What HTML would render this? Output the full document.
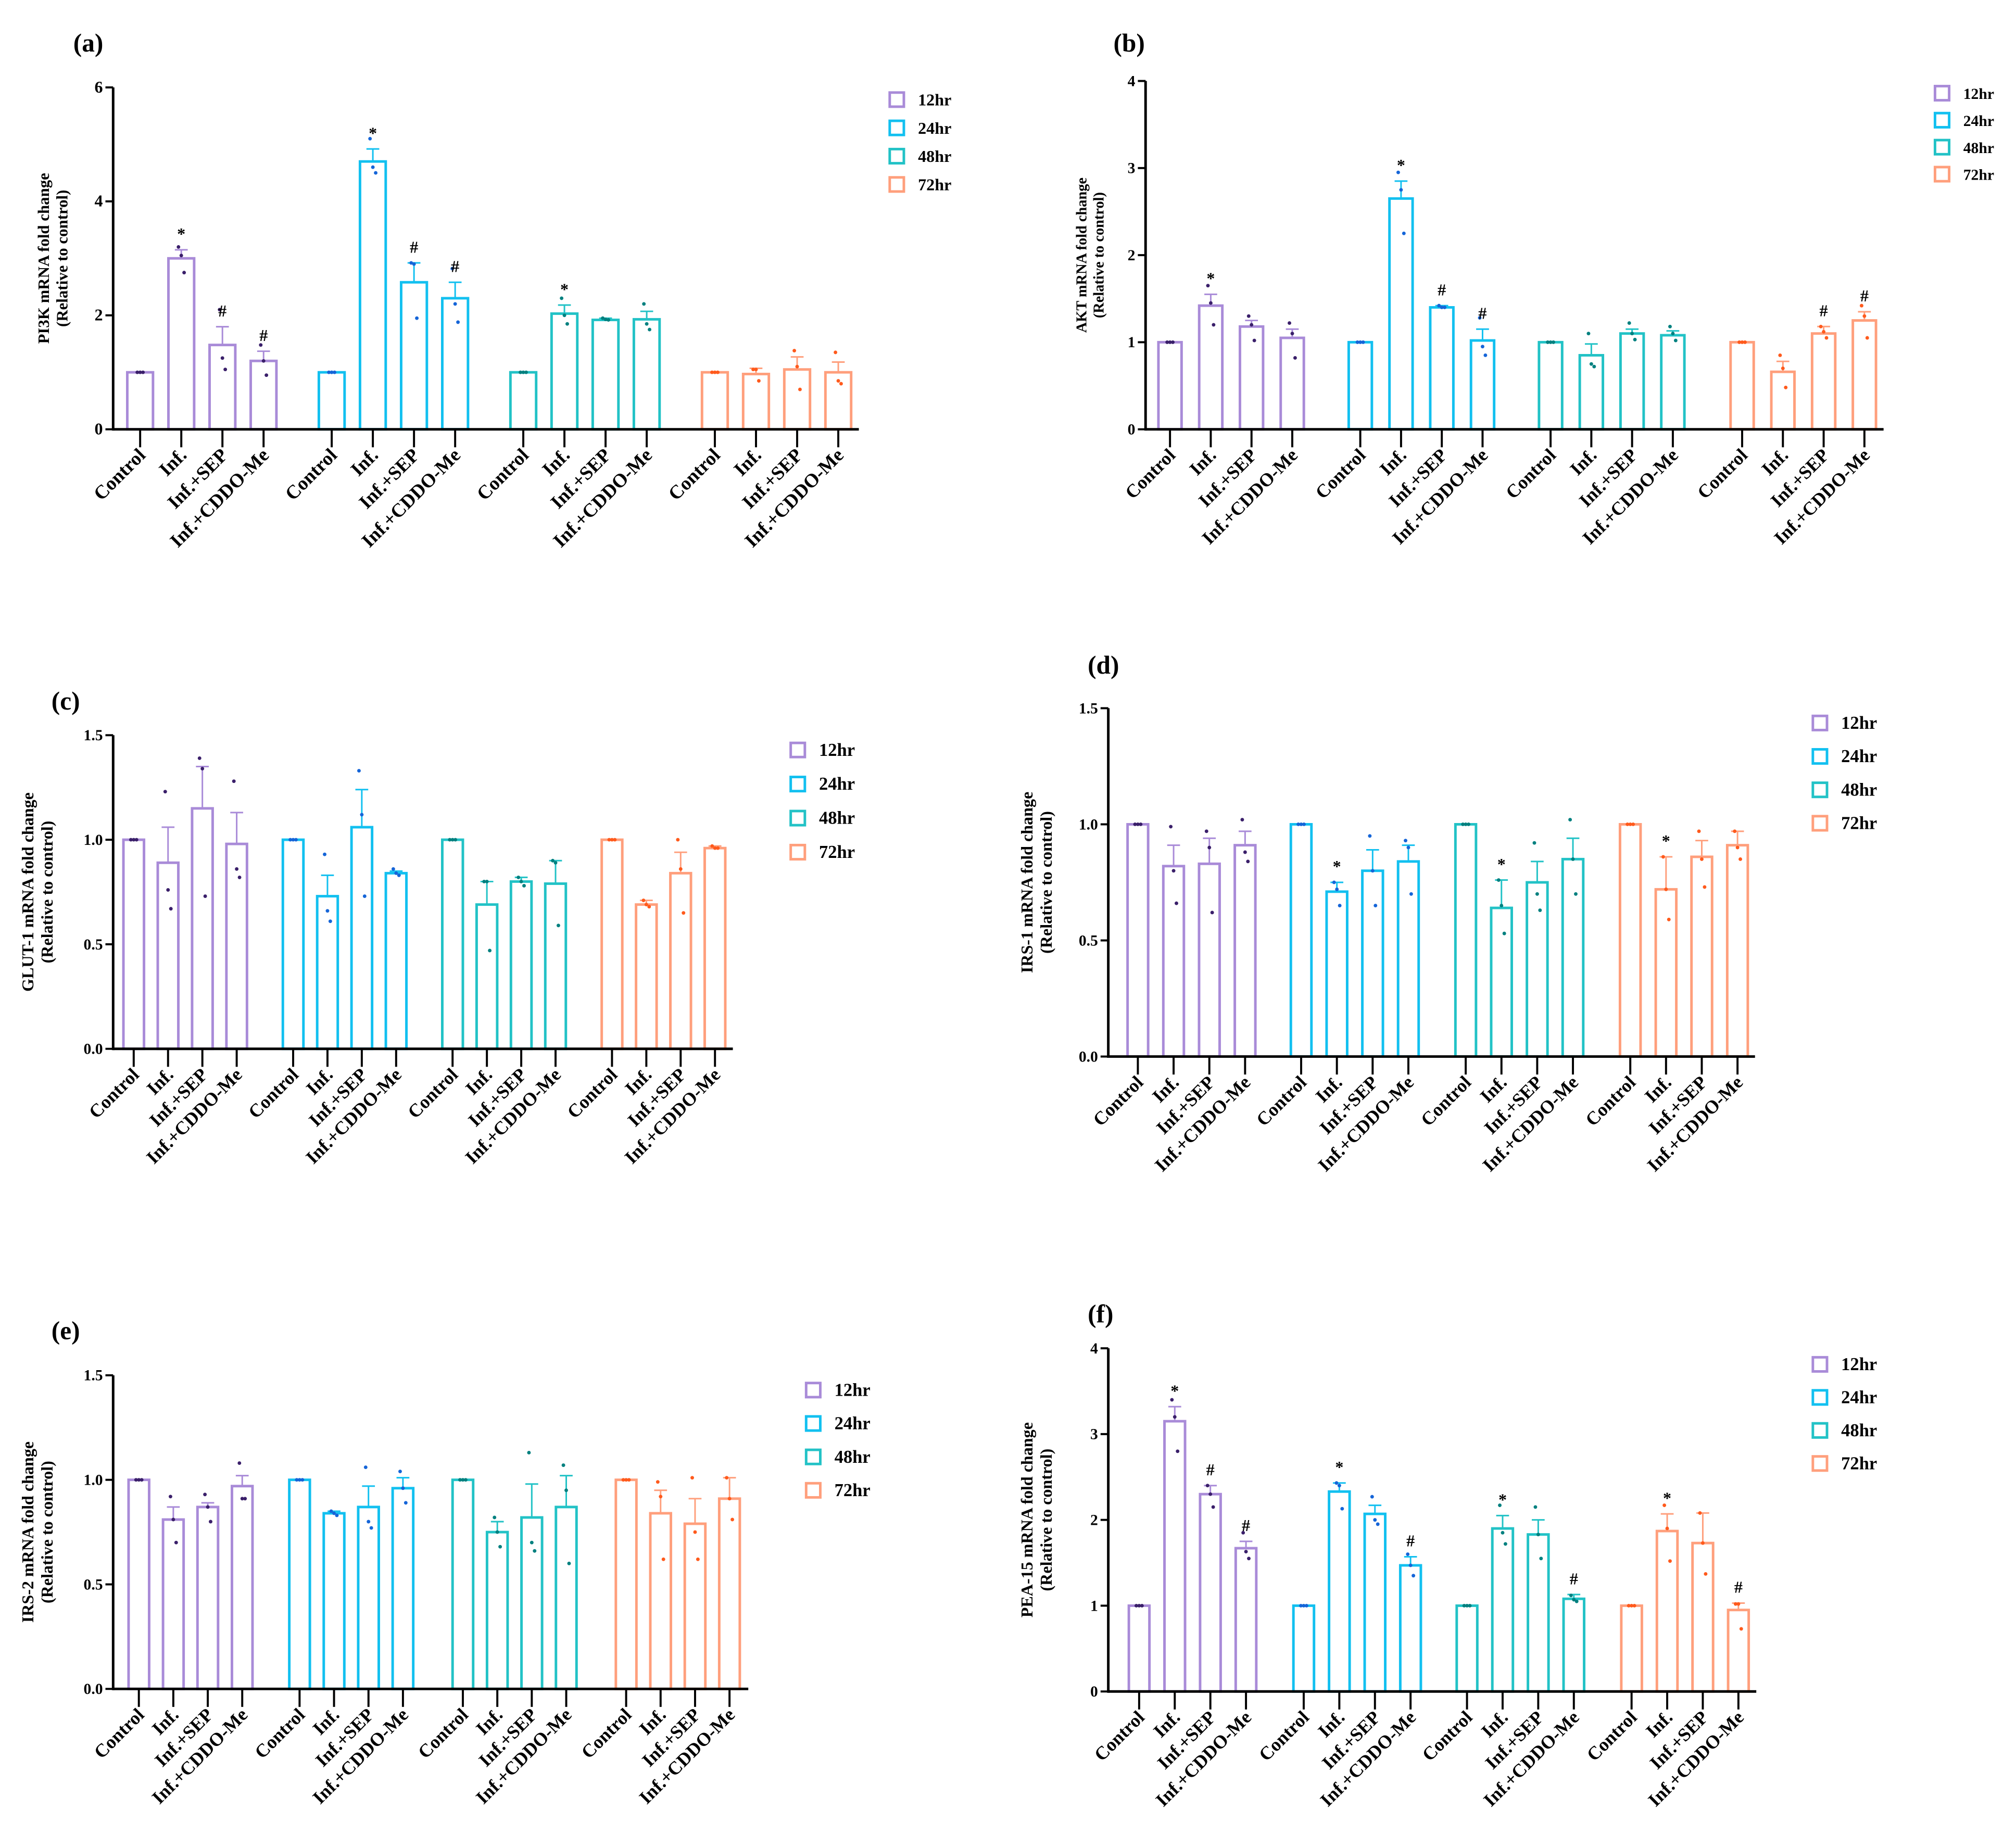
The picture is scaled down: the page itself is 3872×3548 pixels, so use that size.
<!DOCTYPE html>
<html><head><meta charset="utf-8"><style>
html,body{margin:0;padding:0;background:#fff}
svg{display:block}
text{font-family:"Liberation Serif",serif;font-weight:bold;fill:#000}
</style></head><body>
<svg id="fig" width="3872" height="3548" viewBox="0 0 1568 1437" preserveAspectRatio="none" xmlns="http://www.w3.org/2000/svg"></svg>
<script>
const categories = ["Control","Inf.","Inf.+SEP","Inf.+CDDO-Me"];
const seriesNames = ["12hr","24hr","48hr","72hr"];
const valuesA = [[1,3.0,1.48,1.2],[1,4.7,2.58,2.3],[1,2.03,1.92,1.93],[1,0.97,1.05,1.0]];
const errA = [[1,3.15,1.8,1.37],[1,4.92,2.92,2.58],[1,2.18,1.95,2.07],[1,1.07,1.27,1.18]];
const dotsA = [[[1,1,1],[3.2,3.05,2.75],[2.1,1.25,1.05],[1.48,1.2,0.95]],[[1,1,1],[5.1,4.6,4.5],[2.92,2.9,1.95],[2.82,2.2,1.88]],[[1,1,1],[2.3,2.0,1.85],[1.95,1.93,1.92],[2.2,1.85,1.75]],[[1,1,1],[1.05,1.05,0.85],[1.38,1.1,0.7],[1.35,0.85,0.8]]];
const annA = [["","*","#","#"],["","*","#","#"],["","*","",""],["","","",""]];
const ticksA = [0,2,4,6];

const valuesB = [[1,1.42,1.18,1.05],[1,2.65,1.4,1.02],[1,0.85,1.1,1.08],[1,0.66,1.1,1.25]];
const errB = [[1,1.55,1.25,1.15],[1,2.85,1.42,1.15],[1,0.98,1.15,1.13],[1,0.78,1.18,1.35]];
const dotsB = [[[1,1,1],[1.65,1.45,1.2],[1.3,1.2,1.02],[1.22,1.1,0.82]],[[1,1,1],[2.95,2.75,2.25],[1.42,1.4,1.4],[1.28,0.95,0.85]],[[1,1,1],[1.1,0.75,0.72],[1.22,1.1,1.03],[1.18,1.1,1.02]],[[1,1,1],[0.85,0.7,0.48],[1.18,1.12,1.05],[1.42,1.3,1.05]]];
const annB = [["","*","",""],["","*","#","#"],["","","",""],["","","#","#"]];
const ticksB = [0,1,2,3,4];

const valuesC = [[1,0.89,1.15,0.98],[1,0.73,1.06,0.84],[1,0.69,0.8,0.79],[1,0.69,0.84,0.96]];
const errC = [[1,1.06,1.35,1.13],[1,0.83,1.24,0.85],[1,0.8,0.82,0.9],[1,0.71,0.94,0.97]];
const dotsC = [[[1,1,1],[1.23,0.76,0.67],[1.39,1.34,0.73],[1.28,0.86,0.82]],[[1,1,1],[0.93,0.66,0.61],[1.33,1.12,0.73],[0.86,0.84,0.83]],[[1,1,1],[0.8,0.8,0.47],[0.82,0.8,0.78],[0.9,0.89,0.59]],[[1,1,1],[0.71,0.69,0.68],[1.0,0.86,0.65],[0.97,0.96,0.96]]];
const annC = [["","","",""],["","","",""],["","","",""],["","","",""]];
const ticksC = [0,0.5,1.0,1.5];

const valuesD = [[1,0.82,0.83,0.91],[1,0.71,0.8,0.84],[1,0.64,0.75,0.85],[1,0.72,0.86,0.91]];
const errD = [[1,0.91,0.94,0.97],[1,0.75,0.89,0.91],[1,0.76,0.84,0.94],[1,0.86,0.93,0.97]];
const dotsD = [[[1,1,1],[0.99,0.8,0.66],[0.97,0.9,0.62],[1.02,0.88,0.84]],[[1,1,1],[0.75,0.72,0.65],[0.95,0.8,0.65],[0.93,0.9,0.7]],[[1,1,1],[0.76,0.65,0.53],[0.92,0.7,0.63],[1.02,0.85,0.7]],[[1,1,1],[0.86,0.72,0.59],[0.97,0.85,0.73],[0.97,0.9,0.85]]];
const annD = [["","","",""],["","*","",""],["","*","",""],["","*","",""]];
const ticksD = [0,0.5,1.0,1.5];

const valuesE = [[1,0.81,0.87,0.97],[1,0.84,0.87,0.96],[1,0.75,0.82,0.87],[1,0.84,0.79,0.91]];
const errE = [[1,0.87,0.89,1.02],[1,0.85,0.97,1.01],[1,0.8,0.98,1.02],[1,0.95,0.91,1.01]];
const dotsE = [[[1,1,1],[0.92,0.81,0.7],[0.93,0.87,0.8],[1.08,0.91,0.91]],[[1,1,1],[0.85,0.84,0.83],[1.06,0.8,0.77],[1.04,0.96,0.89]],[[1,1,1],[0.82,0.75,0.68],[1.13,0.7,0.66],[1.07,0.95,0.6]],[[1,1,1],[0.99,0.92,0.62],[1.01,0.75,0.62],[1.01,0.91,0.81]]];
const annE = [["","","",""],["","","",""],["","","",""],["","","",""]];
const ticksE = [0,0.5,1.0,1.5];

const valuesF = [[1,3.15,2.3,1.67],[1,2.33,2.07,1.47],[1,1.9,1.83,1.08],[1,1.87,1.73,0.95]];
const errF = [[1,3.32,2.4,1.75],[1,2.43,2.17,1.57],[1,2.05,2.0,1.13],[1,2.07,2.08,1.03]];
const dotsF = [[[1,1,1],[3.4,3.2,2.8],[2.4,2.3,2.15],[1.85,1.63,1.55]],[[1,1,1],[2.43,2.4,2.13],[2.27,2.0,1.95],[1.6,1.47,1.35]],[[1,1,1],[2.17,1.85,1.72],[2.15,1.83,1.55],[1.12,1.07,1.05]],[[1,1,1],[2.17,1.9,1.52],[2.08,1.73,1.37],[1.02,1.02,0.73]]];
const annF = [["","*","#","#"],["","*","","#"],["","*","","#"],["","*","","#"]];
const ticksF = [0,1,2,3,4];

const barColors = ["#a98bd8","#12c0f0","#22c2c6","#ff9f7c"];
const dotColors = ["#3a1f6a","#1565d8","#00807f","#ff5a1c"];

const NS="http://www.w3.org/2000/svg";
const svg=document.getElementById('fig');
function el(tag,attrs,parent,txt){const e=document.createElementNS(NS,tag);for(const k in attrs)e.setAttribute(k,attrs[k]);if(txt!==undefined)e.textContent=txt;(parent||svg).appendChild(e);return e;}

function drawPanel(L,vals,errs,dots,anns,ticks){
  const g=el('g',{});
  
  
  const ymax=ticks[ticks.length-1];
  const y=v=>L.y0-(v/ymax)*(L.y0-L.yTop);
  const x=(s,c)=>L.starts[s]+c*L.step;
  const lab=el('text',{x:L.labX,y:L.labY,'font-size':20},g,'('+L.id+')');
  
  
  const yt=el('text',{transform:`translate(${L.titleX},${(L.y0+L.yTop)/2}) rotate(-90)`,'text-anchor':'middle','font-size':L.tf},g);
  
  
  el('tspan',{x:0,dy:0},yt,L.title);
  el('tspan',{x:0,dy:L.tf*1.15},yt,'(Relative to control)');
  for(let s=0;s<4;s++){
    for(let c=0;c<4;c++){
      const cx=x(s,c),v=vals[s][c],bw=L.bw;
      const r=el('rect',{x:cx-bw/2+1,y:y(v),width:bw-2,height:L.y0-y(v),fill:'none',stroke:barColors[s],'stroke-width':2},g);
      
      
      if(errs[s][c]>v+0.001){
        el('line',{x1:cx,x2:cx,y1:y(v),y2:y(errs[s][c]),stroke:barColors[s],'stroke-width':1.2},g);
        el('line',{x1:cx-5,x2:cx+5,y1:y(errs[s][c]),y2:y(errs[s][c]),stroke:barColors[s],'stroke-width':1.2},g);
      } else {
        el('line',{x1:cx-5,x2:cx+5,y1:y(v),y2:y(v),stroke:barColors[s],'stroke-width':1.2},g);
      }
      dots[s][c].forEach((d,i)=>{
        const p=el('circle',{cx:cx+(i-1)*2.2,cy:y(d),r:1.4,fill:dotColors[s]},g);
        
        
      });
      if(anns[s][c]){
        const a=el('text',{x:cx,y:y(Math.max(errs[s][c],v))-8,'text-anchor':'middle','font-size':13,'font-weight':'normal'},g,anns[s][c]);
        
        
      }
      el('line',{x1:cx,x2:cx,y1:L.y0,y2:L.y0+14,stroke:'#000','stroke-width':1.6},g);
      const t=el('text',{transform:`translate(${cx+5},${L.y0+21}) rotate(-45)`,'text-anchor':'end','font-size':L.xf},g,categories[c]);
      
      
    }
  }
  const ya=el('line',{x1:L.ax,x2:L.ax,y1:L.yTop,y2:L.y0+1,stroke:'#000','stroke-width':2},g);
  
  
  const xa=el('line',{x1:L.ax,x2:L.axEnd,y1:L.y0,y2:L.y0,stroke:'#000','stroke-width':2},g);
  
  
  ticks.forEach(tv=>{
    el('line',{x1:L.ax-6,x2:L.ax,y1:y(tv),y2:y(tv),stroke:'#000','stroke-width':1.6},g);
    const tl=el('text',{x:L.ax-8,y:y(tv)+4,'text-anchor':'end','font-size':L.tkf},g,L.dec?tv.toFixed(1):String(tv));
    
    
  });
  seriesNames.forEach((n,i)=>{
    const ly=L.legY+i*L.legStep;
    const lr=el('rect',{x:L.legX,y:ly-6,width:11,height:11,fill:'none',stroke:barColors[i],'stroke-width':2},g);
    
    
    const lt=el('text',{x:L.legX+22,y:ly+4,'font-size':L.lf,'font-weight':'normal'},g,n);
    
    
  });
}

drawPanel({id:'a',ax:88,axEnd:668,y0:334,yTop:68,starts:[109,258,407,556],step:32,bw:22,labX:57,labY:40,title:'PI3K mRNA fold change',titleX:38,tf:12.5,xf:15,tkf:13,dec:false,legX:692,legY:78,legStep:22,lf:13},valuesA,errA,dotsA,annA,ticksA);
drawPanel({id:'b',ax:891,axEnd:1465,y0:334,yTop:63,starts:[910,1058,1206,1355],step:31.7,bw:20,labX:866,labY:40,title:'AKT mRNA fold change',titleX:845,tf:11.5,xf:14.5,tkf:12,dec:false,legX:1505,legY:73,legStep:21,lf:12},valuesB,errB,dotsB,annB,ticksB);
drawPanel({id:'c',ax:88,axEnd:570,y0:816,yTop:572,starts:[104,228,352,476],step:26.7,bw:18,labX:40,labY:552,title:'GLUT-1 mRNA fold change',titleX:26,tf:13,xf:14.5,tkf:12,dec:true,legX:615,legY:584,legStep:26.5,lf:14},valuesC,errC,dotsC,annC,ticksC);
drawPanel({id:'d',ax:862,axEnd:1365,y0:822,yTop:551,starts:[885,1012,1140,1268],step:27.8,bw:18,labX:846,labY:524,title:'IRS-1 mRNA fold change',titleX:803,tf:13,xf:14.5,tkf:12,dec:true,legX:1410,legY:563,legStep:26,lf:14},valuesD,errD,dotsD,annD,ticksD);
drawPanel({id:'e',ax:88,axEnd:582,y0:1314,yTop:1070,starts:[108,233,360,487],step:26.8,bw:18,labX:40,labY:1042,title:'IRS-2 mRNA fold change',titleX:26,tf:13,xf:14.5,tkf:12,dec:true,legX:627,legY:1082,legStep:26,lf:14},valuesE,errE,dotsE,annE,ticksE);
drawPanel({id:'f',ax:862,axEnd:1366,y0:1316,yTop:1049,starts:[886,1014,1141,1269],step:27.7,bw:18,labX:846,labY:1029,title:'PEA-15 mRNA fold change',titleX:803,tf:13,xf:14.5,tkf:12,dec:false,legX:1410,legY:1062,legStep:25.7,lf:14},valuesF,errF,dotsF,annF,ticksF);
</script>
</body></html>
